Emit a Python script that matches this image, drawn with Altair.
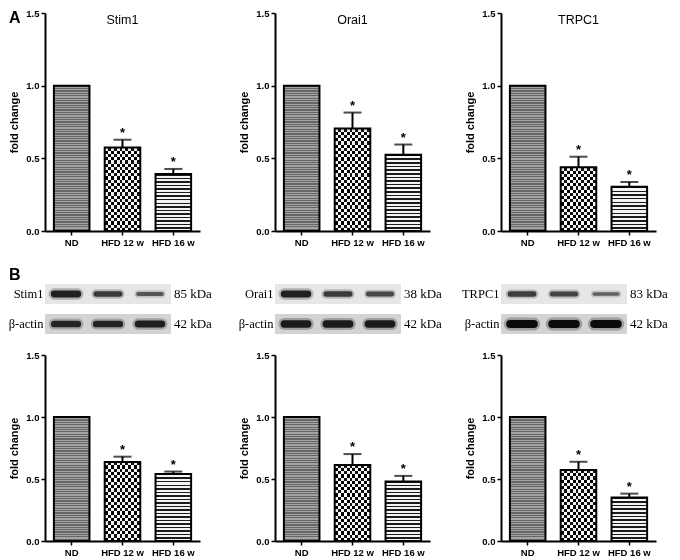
import altair as alt
import pandas as pd

# ---------------- data ----------------
groups = ["ND", "HFD 12 w", "HFD 16 w"]
proteins = ["Stim1", "Orai1", "TRPC1"]
sig_marks = ["", "*", "*"]

# Panel A (mRNA, fold change)
mrna_mean = {"Stim1": [1.0, 0.575, 0.392], "Orai1": [1.0, 0.705, 0.524], "TRPC1": [1.0, 0.438, 0.304]}
mrna_err = {"Stim1": [0.0, 0.053, 0.035], "Orai1": [0.0, 0.110, 0.071], "TRPC1": [0.0, 0.073, 0.033]}

# Panel B (protein, fold change)
prot_mean = {"Stim1": [1.0, 0.637, 0.541], "Orai1": [1.0, 0.613, 0.480], "TRPC1": [1.0, 0.573, 0.351]}
prot_err = {"Stim1": [0.0, 0.043, 0.019], "Orai1": [0.0, 0.088, 0.045], "TRPC1": [0.0, 0.066, 0.031]}

# Western blot: band labels and estimated band strength per lane
kda_target = ["85 kDa", "38 kDa", "83 kDa"]
loading = "β-actin"
kda_loading = "42 kDa"
blot_target = {"Stim1": [0.85, 0.65, 0.45], "Orai1": [0.85, 0.65, 0.55], "TRPC1": [0.62, 0.58, 0.38]}
blot_loading = {"Stim1": [0.82, 0.82, 0.86], "Orai1": [0.9, 0.9, 0.9], "TRPC1": [1.0, 1.0, 1.0]}

# ---------------- style ----------------
W = 155
H_TOP = 218
H_BOT = 186
H_BLOT = 60
SANS = "Liberation Sans"
SERIF = "Liberation Serif"


def stripes(n, c1, c2, duty=0.5, vertical=False):
    n = max(1, int(n))
    stops = []
    for i in range(n):
        a = i / n
        b = (i + duty) / n
        c = (i + 1) / n
        stops += [
            {"offset": round(a, 5), "color": c1},
            {"offset": round(b, 5), "color": c1},
            {"offset": round(b, 5), "color": c2},
            {"offset": round(c, 5), "color": c2},
        ]
    g = {"gradient": "linear", "stops": stops}
    if vertical:
        g.update(x1=0, y1=0, x2=1, y2=0)
    else:
        g.update(x1=0, y1=0, x2=0, y2=1)
    return g


def bar_panel(protein, means, errs, H, show_title, letter, show_letter):
    df = pd.DataFrame({
        "group": groups,
        "mean": means,
        "err": errs,
        "top": [m + e for m, e in zip(means, errs)],
        "sig": sig_marks,
    })
    ppu = H / 1.5
    xs = alt.Scale(domain=groups, paddingInner=0.3, paddingOuter=0.175)
    ys = alt.Scale(domain=[0, 1.5], nice=False, zero=True)
    x_axis = alt.Axis(title=None, labelAngle=0, labelFont=SANS, labelFontWeight="bold", labelFontSize=9.5,
                      labelColor="black", labelPadding=2, tickSize=4, tickColor="black", tickWidth=1.5,
                      domainColor="black", domainWidth=2)
    y_axis = alt.Axis(title="fold change", values=[0, 0.5, 1.0, 1.5], format=".1f", labelFont=SANS,
                      labelFontWeight="bold", labelFontSize=9.5, labelColor="black", labelPadding=2,
                      tickSize=4, tickColor="black", tickWidth=1.5, domainColor="black", domainWidth=2,
                      titleFont=SANS, titleFontWeight="bold", titleFontSize=11, titleColor="black",
                      titlePadding=6, grid=False)

    def X(ax=None):
        if ax is None:
            return alt.X("group:N", sort=groups, scale=xs)
        return alt.X("group:N", sort=groups, scale=xs, axis=ax)

    def Y(field, ax=None):
        if ax is None:
            return alt.Y(field, scale=ys)
        return alt.Y(field, scale=ys, axis=ax)

    base = alt.Chart(df)
    step = W / (3 - 0.3 + 2 * 0.175)
    bar_w = step * 0.7
    h = [m * ppu for m in means]

    nd = base.transform_filter(alt.datum.group == groups[0]).mark_bar(
        fill=stripes(round(h[0] / 2.4), "#666666", "#a4a4a4"), stroke="black", strokeWidth=2
    ).encode(x=X(x_axis), y=Y("mean:Q", y_axis))

    f12 = base.transform_filter(alt.datum.group == groups[1])
    c_base = f12.mark_bar(fill=stripes(round(h[1] / 6.4), "#111111", "#ffffff"), strokeWidth=0).encode(
        x=X(), y=Y("mean:Q"))
    c_over = f12.mark_bar(fill=stripes(round(bar_w / 6.4), "#ffffff", "rgba(0,0,0,0)", vertical=True),
                          strokeWidth=0, blend="difference").encode(x=X(), y=Y("mean:Q"))
    c_edge = f12.mark_bar(fillOpacity=0, stroke="black", strokeWidth=2).encode(x=X(), y=Y("mean:Q"))

    f16 = base.transform_filter(alt.datum.group == groups[2]).mark_bar(
        fill=stripes(round(h[2] / 3.6), "#1c1c1c", "#f4f4f4", duty=0.42), stroke="black", strokeWidth=2
    ).encode(x=X(), y=Y("mean:Q"))

    eb = base.transform_filter(alt.datum.err > 0)
    err_line = eb.mark_rule(color="black", strokeWidth=2).encode(x=X(), y=Y("mean:Q"), y2="top:Q")
    err_cap = eb.mark_tick(color="black", thickness=2, size=18, orient="horizontal").encode(
        x=X(), y=Y("top:Q"))
    stars = eb.mark_text(font=SANS, fontSize=13, fontWeight="bold", dy=-3, baseline="alphabetic",
                         color="black").encode(x=X(), y=Y("top:Q"), text="sig:N")

    layers = [nd, c_base, c_over, c_edge, f16, err_line, err_cap, stars]

    if show_title:
        tdf = pd.DataFrame({"t": [protein]})
        layers.append(alt.Chart(tdf).mark_text(font=SANS, fontSize=12.5, color="black", baseline="middle").encode(
            x=alt.XDatum(groups[1], type="nominal", scale=xs), y=alt.YDatum(1.455, type="quantitative", scale=ys),
            text="t:N"))
    ldf = pd.DataFrame({"t": [letter]})
    layers.append(alt.Chart(ldf).mark_text(font=SANS, fontSize=16, fontWeight="bold", align="left",
                                           baseline="top", color="black",
                                           opacity=1 if show_letter else 0).encode(
        x=alt.value(-36), y=alt.value(-3), text="t:N"))
    return alt.layer(*layers).properties(width=W, height=H)


def blot_panel(i, protein, show_letter):
    rows = [protein, loading]
    ys = alt.Scale(domain=rows, paddingInner=0.33, paddingOuter=0.165)
    xs = alt.Scale(domain=[0, 3.69], nice=False, zero=False)
    strips = pd.DataFrame({"row": rows, "x0": [0, 0], "x1": [3, 3]})
    bands = pd.DataFrame({
        "row": [protein] * 3 + [loading] * 3,
        "lane": [0, 1, 2, 0, 1, 2],
        "level": blot_target[protein] + blot_loading[protein],
    })
    labels = pd.DataFrame({"row": rows, "kda": [kda_target[i], kda_loading]})
    y_axis = alt.Axis(title=None, domain=False, ticks=False, labelFont=SERIF, labelFontSize=12.5,
                      labelColor="black", labelPadding=2)

    def Yr(ax=None):
        if ax is None:
            return alt.Y("row:N", sort=rows, scale=ys)
        return alt.Y("row:N", sort=rows, scale=ys, axis=ax)

    sbase = alt.Chart(strips)
    strip1 = sbase.transform_filter(alt.datum.row == protein).mark_rect(color="#e6e6e6").encode(
        x=alt.X("x0:Q", scale=xs, axis=None), x2="x1:Q", y=Yr(y_axis))
    strip2 = sbase.transform_filter(alt.datum.row == loading).mark_rect(color="#d3d3d3").encode(
        x=alt.X("x0:Q", scale=xs, axis=None), x2="x1:Q", y=Yr())

    bb = alt.Chart(bands).transform_calculate(xa="datum.lane + 0.22", xb="datum.lane + 0.78")
    halo = bb.mark_rule(strokeCap="round", opacity=0.35).encode(
        x=alt.X("xa:Q", scale=xs, axis=None), x2="xb:Q", y=Yr(),
        size=alt.Size("level:Q", scale=alt.Scale(domain=[0, 1], range=[3, 13]), legend=None),
        color=alt.Color("level:Q", scale=alt.Scale(domain=[0, 1], range=["#bdbdbd", "#3a3a3a"]), legend=None))
    core = bb.mark_rule(strokeCap="round").encode(
        x=alt.X("xa:Q", scale=xs, axis=None), x2="xb:Q", y=Yr(),
        strokeWidth=alt.StrokeWidth("level:Q", scale=alt.Scale(domain=[0, 1], range=[1, 8]), legend=None),
        stroke=alt.Stroke("level:Q", scale=alt.Scale(domain=[0, 1], range=["#9c9c9c", "#0b0b0b"]), legend=None))

    kda = alt.Chart(labels).mark_text(font=SERIF, fontSize=13, align="left", baseline="middle",
                                      color="black").encode(
        x=alt.XDatum(3.07, type="quantitative", scale=xs, axis=None), y=Yr(), text="kda:N")
    ldf = pd.DataFrame({"t": ["B"]})
    letter = alt.Chart(ldf).mark_text(font=SANS, fontSize=16, fontWeight="bold", align="left",
                                      baseline="top", color="black",
                                      opacity=1 if show_letter else 0).encode(
        x=alt.value(-36), y=alt.value(-12), text="t:N")
    return alt.layer(strip1, strip2, halo, core, kda, letter).resolve_scale(
        color="independent", size="independent").properties(width=W, height=H_BLOT)


columns = []
for i, p in enumerate(proteins):
    top = bar_panel(p, mrna_mean[p], mrna_err[p], H_TOP, True, "A", i == 0)
    blot = blot_panel(i, p, i == 0)
    bot = bar_panel(p, prot_mean[p], prot_err[p], H_BOT, False, "", False)
    columns.append(alt.vconcat(top, alt.vconcat(blot, bot, spacing=11), spacing=20))

chart = alt.hconcat(
    columns[0], alt.hconcat(columns[1], columns[2], spacing=19), spacing=26
).properties(padding=0).configure_view(stroke=None)

chart.save("out.html", embed_options={"renderer": "svg", "actions": False})
